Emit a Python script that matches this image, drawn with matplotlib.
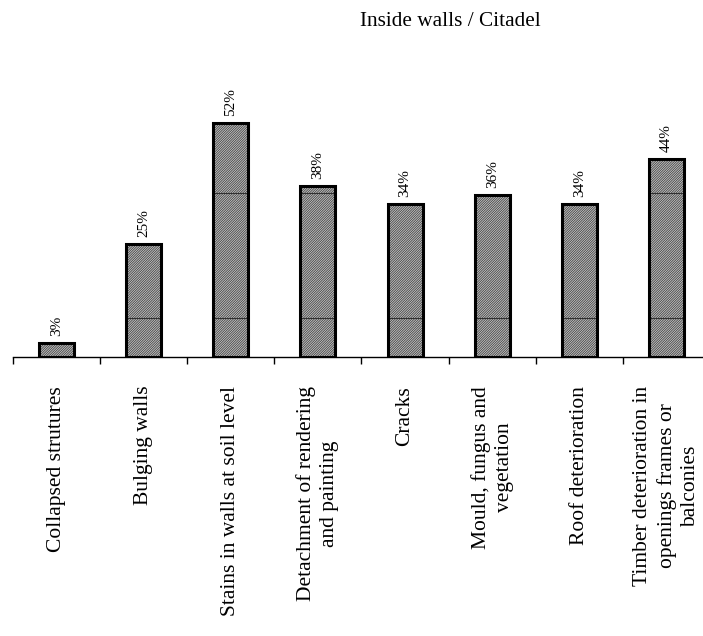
import matplotlib
matplotlib.use("Agg")
import matplotlib.pyplot as plt
import numpy as np

categories = [
    "Collapsed strutures",
    "Bulging walls",
    "Stains in walls at soil level",
    "Detachment of rendering\nand painting",
    "Cracks",
    "Mould, fungus and\nvegetation",
    "Roof deterioration",
    "Timber deterioration in\nopenings frames or\nbalconies",
]
values = [3, 25, 52, 38, 34, 36, 34, 44]
value_labels = ["3%", "25%", "52%", "38%", "34%", "36%", "34%", "44%"]
grid_levels = [8.5, 36.3]

plt.rcParams["font.family"] = ["Liberation Serif", "DejaVu Serif"]
plt.rcParams["hatch.color"] = "#444444"
plt.rcParams["hatch.linewidth"] = 0.6

fig = plt.figure(figsize=(7.03, 6.36), dpi=100)
ax = fig.add_axes([12.7 / 703, 1 - 356.7 / 636, 697.6 / 703, 270 / 636])

x = np.arange(len(values))
w = 0.4
ax.bar(x, values, w, color="#c8c8c8", hatch="/" * 14, linewidth=0, zorder=2)
# gridline levels show through the bars only
for lvl in grid_levels:
    for xi, v in zip(x, values):
        if v > lvl:
            ax.hlines(lvl, xi - w / 2, xi + w / 2, color="#303030", lw=0.8, zorder=3)
ax.bar(x, values, w, fill=False, edgecolor="black", linewidth=2.2, zorder=4)

for xi, v, lab in zip(x, values, value_labels):
    ax.annotate(lab, xy=(xi, v), xytext=(0, 5), textcoords="offset points",
                rotation=90, ha="center", va="bottom", fontsize=11)

for xi, cat in zip(x, categories):
    ax.annotate(cat, xy=(xi, 0), xycoords=("data", "axes fraction"),
                xytext=(0, -21), textcoords="offset points", rotation=90,
                ha="center", va="top", multialignment="center", fontsize=15.5,
                linespacing=1.3)

ax.set_xlim(-0.5, len(values) - 0.5)
ax.set_ylim(0, 60)
ax.set_xticks(np.arange(len(values) + 1) - 0.5)
ax.set_xticklabels([])
ax.tick_params(axis="x", direction="out", length=5, width=1, color="black")
ax.set_yticks([])
for s in ["left", "right", "top"]:
    ax.spines[s].set_visible(False)
ax.spines["bottom"].set_linewidth(1)

fig.text(450 / 703, 1 - 22 / 636, "Inside walls / Citadel", ha="center", va="center",
         fontsize=15.3)

fig.savefig("out.png", dpi=100)
